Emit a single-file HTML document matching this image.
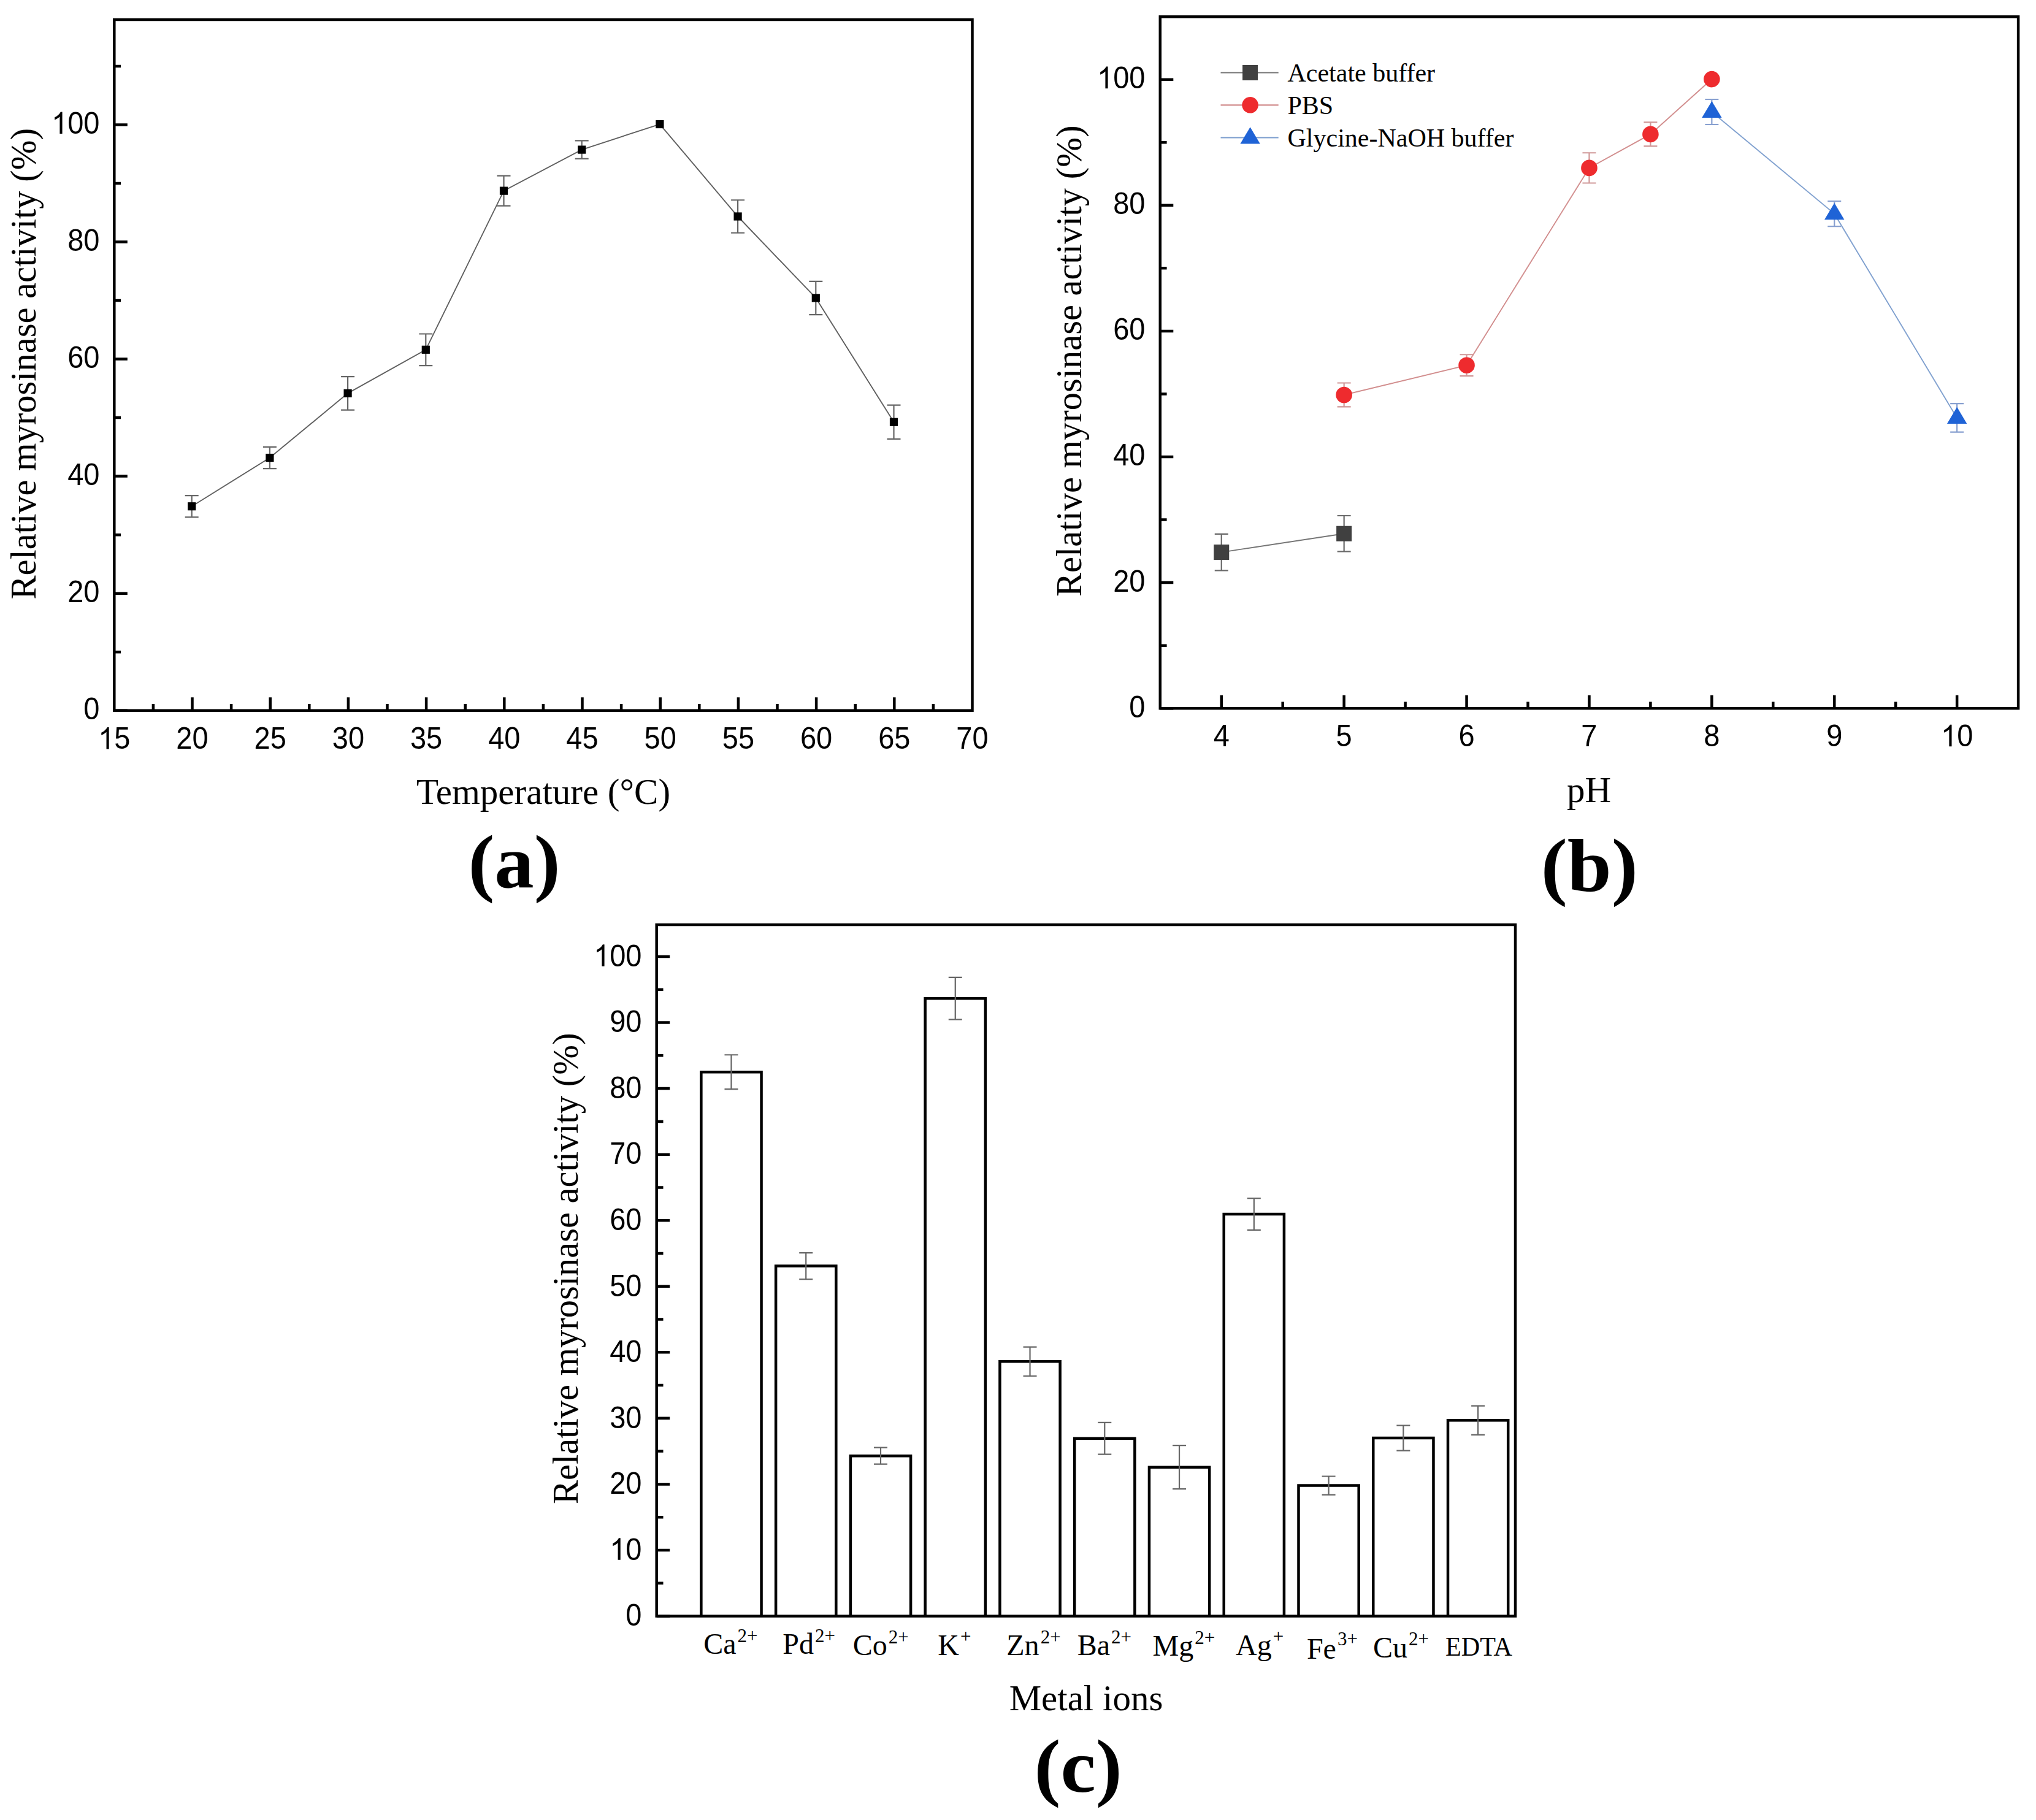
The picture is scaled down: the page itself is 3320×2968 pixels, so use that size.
<!DOCTYPE html>
<html><head><meta charset="utf-8"><title>Myrosinase activity</title>
<style>html,body{margin:0;padding:0;background:#fff}body{width:3320px;height:2968px;overflow:hidden}</style>
</head><body>
<svg width='3320' height='2968' viewBox='0 0 3320 2968' style='display:block'><rect width='3320' height='2968' fill='#fff'/><path d='M312.7 808.05V843.39M301.7 808.05H323.7M301.7 843.39H323.7' stroke='#666' stroke-width='2.2' fill='none'/><path d='M439.9 728.86V764.2M428.9 728.86H450.9M428.9 764.2H450.9' stroke='#666' stroke-width='2.2' fill='none'/><path d='M567.1 614.14V668.59M556.1 614.14H578.1M556.1 668.59H578.1' stroke='#666' stroke-width='2.2' fill='none'/><path d='M694.3 544.51V596.09M683.3 544.51H705.3M683.3 596.09H705.3' stroke='#666' stroke-width='2.2' fill='none'/><path d='M821.5 286.6V335.7M810.5 286.6H832.5M810.5 335.7H832.5' stroke='#666' stroke-width='2.2' fill='none'/><path d='M948.7 229.29V258.9M937.7 229.29H959.7M937.7 258.9H959.7' stroke='#666' stroke-width='2.2' fill='none'/><path d='M1203.1 326.24V379.73M1192.1 326.24H1214.1M1192.1 379.73H1214.1' stroke='#666' stroke-width='2.2' fill='none'/><path d='M1330.3 458.82V513.08M1319.3 458.82H1341.3M1319.3 513.08H1341.3' stroke='#666' stroke-width='2.2' fill='none'/><path d='M1457.5 660.56V715.96M1446.5 660.56H1468.5M1446.5 715.96H1468.5' stroke='#666' stroke-width='2.2' fill='none'/><polyline points='312.7,825.72 439.9,746.53 567.1,641.36 694.3,570.3 821.5,311.15 948.7,244.1 1075.9,202.54 1203.1,352.99 1330.3,485.95 1457.5,688.26' fill='none' stroke='#606060' stroke-width='1.9'/><rect x='306.1' y='819.12' width='13.2' height='13.2' fill='#000'/><rect x='433.3' y='739.93' width='13.2' height='13.2' fill='#000'/><rect x='560.5' y='634.76' width='13.2' height='13.2' fill='#000'/><rect x='687.7' y='563.7' width='13.2' height='13.2' fill='#000'/><rect x='814.9' y='304.55' width='13.2' height='13.2' fill='#000'/><rect x='942.1' y='237.5' width='13.2' height='13.2' fill='#000'/><rect x='1069.3' y='195.94' width='13.2' height='13.2' fill='#000'/><rect x='1196.5' y='346.39' width='13.2' height='13.2' fill='#000'/><rect x='1323.7' y='479.35' width='13.2' height='13.2' fill='#000'/><rect x='1450.9' y='681.66' width='13.2' height='13.2' fill='#000'/><rect x='186.3' y='32' width='1399.2' height='1126.7' fill='none' stroke='#000' stroke-width='4.5'/><path d='M186.3 1158.7H207.8M186.3 967.66H207.8M186.3 776.62H207.8M186.3 585.58H207.8M186.3 394.54H207.8M186.3 203.5H207.8M186.3 1063.18H197.1M186.3 872.14H197.1M186.3 681.1H197.1M186.3 490.06H197.1M186.3 299.02H197.1M186.3 107.98H197.1' stroke='#000' stroke-width='4.5' fill='none'/><path d='M313.5 1158.7V1137.2M440.7 1158.7V1137.2M567.9 1158.7V1137.2M695.1 1158.7V1137.2M822.3 1158.7V1137.2M949.5 1158.7V1137.2M1076.7 1158.7V1137.2M1203.9 1158.7V1137.2M1331.1 1158.7V1137.2M1458.3 1158.7V1137.2M249.9 1158.7V1147.9M377.1 1158.7V1147.9M504.3 1158.7V1147.9M631.5 1158.7V1147.9M758.7 1158.7V1147.9M885.9 1158.7V1147.9M1013.1 1158.7V1147.9M1140.3 1158.7V1147.9M1267.5 1158.7V1147.9M1394.7 1158.7V1147.9M1521.9 1158.7V1147.9' stroke='#000' stroke-width='4.5' fill='none'/><g transform='translate(162.5,0) scale(0.95,1) translate(-162.5,0)'><text x='134.97' y='1173.2' font-family="'Liberation Sans', sans-serif" font-size='49.5'>0</text></g><g transform='translate(162.5,0) scale(0.95,1) translate(-162.5,0)'><text x='107.44' y='982.16' font-family="'Liberation Sans', sans-serif" font-size='49.5'>20</text></g><g transform='translate(162.5,0) scale(0.95,1) translate(-162.5,0)'><text x='107.44' y='791.12' font-family="'Liberation Sans', sans-serif" font-size='49.5'>40</text></g><g transform='translate(162.5,0) scale(0.95,1) translate(-162.5,0)'><text x='107.44' y='600.08' font-family="'Liberation Sans', sans-serif" font-size='49.5'>60</text></g><g transform='translate(162.5,0) scale(0.95,1) translate(-162.5,0)'><text x='107.44' y='409.04' font-family="'Liberation Sans', sans-serif" font-size='49.5'>80</text></g><g transform='translate(162.5,0) scale(0.95,1) translate(-162.5,0)'><text x='79.91' y='218' font-family="'Liberation Sans', sans-serif" font-size='49.5'><tspan fill-opacity='0'>1</tspan>00</text><path d='M763 0H583V1147Q518 1085 412.5 1023Q307 961 223 930V1104Q374 1175 487 1276Q600 1377 647 1472H763Z' transform='translate(79.91,218) scale(0.02417,-0.02417)'/></g><g transform='translate(186.3,0) scale(0.95,1) translate(-186.3,0)'><text x='158.77' y='1221.5' font-family="'Liberation Sans', sans-serif" font-size='49.5'><tspan fill-opacity='0'>1</tspan>5</text><path d='M763 0H583V1147Q518 1085 412.5 1023Q307 961 223 930V1104Q374 1175 487 1276Q600 1377 647 1472H763Z' transform='translate(158.77,1221.5) scale(0.02417,-0.02417)'/></g><g transform='translate(313.5,0) scale(0.95,1) translate(-313.5,0)'><text x='285.97' y='1221.5' font-family="'Liberation Sans', sans-serif" font-size='49.5'>20</text></g><g transform='translate(440.7,0) scale(0.95,1) translate(-440.7,0)'><text x='413.17' y='1221.5' font-family="'Liberation Sans', sans-serif" font-size='49.5'>25</text></g><g transform='translate(567.9,0) scale(0.95,1) translate(-567.9,0)'><text x='540.37' y='1221.5' font-family="'Liberation Sans', sans-serif" font-size='49.5'>30</text></g><g transform='translate(695.1,0) scale(0.95,1) translate(-695.1,0)'><text x='667.57' y='1221.5' font-family="'Liberation Sans', sans-serif" font-size='49.5'>35</text></g><g transform='translate(822.3,0) scale(0.95,1) translate(-822.3,0)'><text x='794.77' y='1221.5' font-family="'Liberation Sans', sans-serif" font-size='49.5'>40</text></g><g transform='translate(949.5,0) scale(0.95,1) translate(-949.5,0)'><text x='921.97' y='1221.5' font-family="'Liberation Sans', sans-serif" font-size='49.5'>45</text></g><g transform='translate(1076.7,0) scale(0.95,1) translate(-1076.7,0)'><text x='1049.17' y='1221.5' font-family="'Liberation Sans', sans-serif" font-size='49.5'>50</text></g><g transform='translate(1203.9,0) scale(0.95,1) translate(-1203.9,0)'><text x='1176.37' y='1221.5' font-family="'Liberation Sans', sans-serif" font-size='49.5'>55</text></g><g transform='translate(1331.1,0) scale(0.95,1) translate(-1331.1,0)'><text x='1303.57' y='1221.5' font-family="'Liberation Sans', sans-serif" font-size='49.5'>60</text></g><g transform='translate(1458.3,0) scale(0.95,1) translate(-1458.3,0)'><text x='1430.77' y='1221.5' font-family="'Liberation Sans', sans-serif" font-size='49.5'>65</text></g><g transform='translate(1585.5,0) scale(0.95,1) translate(-1585.5,0)'><text x='1557.97' y='1221.5' font-family="'Liberation Sans', sans-serif" font-size='49.5'>70</text></g><text transform='translate(57.5,977.5) rotate(-90)' font-family="'Liberation Serif', serif" font-size='58.5'>Relative myrosinase activity (%)</text><text x='886' y='1311.2' text-anchor='middle' font-family="'Liberation Serif', serif" font-size='59'>Temperature (°C)</text><text transform='translate(838.5,1447) scale(1.03,0.985)' text-anchor='middle' font-family="'Liberation Serif', serif" font-size='125' font-weight='bold'>(a)</text><path d='M1991.75 870.83V930.31M1980.75 870.83H2002.75M1980.75 930.31H2002.75' stroke='#6a6a6a' stroke-width='2.2' fill='none'/><path d='M2191.65 840.99V899.44M2180.65 840.99H2202.65M2180.65 899.44H2202.65' stroke='#6a6a6a' stroke-width='2.2' fill='none'/><path d='M2191.65 624.5V663.47M2180.65 624.5H2202.65M2180.65 663.47H2202.65' stroke='#d09898' stroke-width='2.2' fill='none'/><path d='M2391.55 578.25V613.12M2380.55 578.25H2402.55M2380.55 613.12H2402.55' stroke='#d09898' stroke-width='2.2' fill='none'/><path d='M2591.45 249.27V298.5M2580.45 249.27H2602.45M2580.45 298.5H2602.45' stroke='#d09898' stroke-width='2.2' fill='none'/><path d='M2691.4 199.43V238.4M2680.4 199.43H2702.4M2680.4 238.4H2702.4' stroke='#d09898' stroke-width='2.2' fill='none'/><path d='M2791.35 162V203.02M2780.35 162H2802.35M2780.35 203.02H2802.35' stroke='#88a0d0' stroke-width='2.2' fill='none'/><path d='M2991.25 328.13V369.15M2980.25 328.13H3002.25M2980.25 369.15H3002.25' stroke='#88a0d0' stroke-width='2.2' fill='none'/><path d='M3191.15 658.14V704.7M3180.15 658.14H3202.15M3180.15 704.7H3202.15' stroke='#88a0d0' stroke-width='2.2' fill='none'/><polyline points='1991.75,900.57 2191.65,870.21' fill='none' stroke='#767676' stroke-width='1.9'/><polyline points='2191.65,643.99 2391.55,595.69 2591.45,273.89 2691.4,218.92 2791.35,129.08' fill='none' stroke='#d28e8e' stroke-width='1.9'/><polyline points='2791.35,182.51 2991.25,348.64 3191.15,681.42' fill='none' stroke='#82a2d0' stroke-width='1.9'/><rect x='1979.25' y='888.07' width='25' height='25' fill='#404040'/><rect x='2179.15' y='857.71' width='25' height='25' fill='#404040'/><circle cx='2191.65' cy='643.99' r='13.3' fill='#EE2B2E'/><circle cx='2391.55' cy='595.69' r='13.3' fill='#EE2B2E'/><circle cx='2591.45' cy='273.89' r='13.3' fill='#EE2B2E'/><circle cx='2691.4' cy='218.92' r='13.3' fill='#EE2B2E'/><circle cx='2791.35' cy='129.08' r='13.3' fill='#EE2B2E'/><path d='M2791.35 164.91L2807.55 192.11L2775.15 192.11Z' fill='#1F63D6'/><path d='M2991.25 331.04L3007.45 358.24L2975.05 358.24Z' fill='#1F63D6'/><path d='M3191.15 663.82L3207.35 691.02L3174.95 691.02Z' fill='#1F63D6'/><rect x='1891.8' y='27.3' width='1399.3' height='1127.9' fill='none' stroke='#000' stroke-width='4.5'/><path d='M1891.8 1155.2H1913.3M1891.8 950.1H1913.3M1891.8 745H1913.3M1891.8 539.9H1913.3M1891.8 334.8H1913.3M1891.8 129.7H1913.3M1891.8 1052.65H1902.6M1891.8 847.55H1902.6M1891.8 642.45H1902.6M1891.8 437.35H1902.6M1891.8 232.25H1902.6' stroke='#000' stroke-width='4.5' fill='none'/><path d='M1991.75 1155.2V1133.7M2191.65 1155.2V1133.7M2391.55 1155.2V1133.7M2591.45 1155.2V1133.7M2791.35 1155.2V1133.7M2991.25 1155.2V1133.7M3191.15 1155.2V1133.7M2091.7 1155.2V1144.4M2291.6 1155.2V1144.4M2491.5 1155.2V1144.4M2691.4 1155.2V1144.4M2891.3 1155.2V1144.4M3091.2 1155.2V1144.4' stroke='#000' stroke-width='4.5' fill='none'/><g transform='translate(1867.5,0) scale(0.95,1) translate(-1867.5,0)'><text x='1839.97' y='1169.7' font-family="'Liberation Sans', sans-serif" font-size='49.5'>0</text></g><g transform='translate(1867.5,0) scale(0.95,1) translate(-1867.5,0)'><text x='1812.44' y='964.6' font-family="'Liberation Sans', sans-serif" font-size='49.5'>20</text></g><g transform='translate(1867.5,0) scale(0.95,1) translate(-1867.5,0)'><text x='1812.44' y='759.5' font-family="'Liberation Sans', sans-serif" font-size='49.5'>40</text></g><g transform='translate(1867.5,0) scale(0.95,1) translate(-1867.5,0)'><text x='1812.44' y='554.4' font-family="'Liberation Sans', sans-serif" font-size='49.5'>60</text></g><g transform='translate(1867.5,0) scale(0.95,1) translate(-1867.5,0)'><text x='1812.44' y='349.3' font-family="'Liberation Sans', sans-serif" font-size='49.5'>80</text></g><g transform='translate(1867.5,0) scale(0.95,1) translate(-1867.5,0)'><text x='1784.91' y='144.2' font-family="'Liberation Sans', sans-serif" font-size='49.5'><tspan fill-opacity='0'>1</tspan>00</text><path d='M763 0H583V1147Q518 1085 412.5 1023Q307 961 223 930V1104Q374 1175 487 1276Q600 1377 647 1472H763Z' transform='translate(1784.91,144.2) scale(0.02417,-0.02417)'/></g><g transform='translate(1991.75,0) scale(0.95,1) translate(-1991.75,0)'><text x='1977.99' y='1217.3' font-family="'Liberation Sans', sans-serif" font-size='49.5'>4</text></g><g transform='translate(2191.65,0) scale(0.95,1) translate(-2191.65,0)'><text x='2177.89' y='1217.3' font-family="'Liberation Sans', sans-serif" font-size='49.5'>5</text></g><g transform='translate(2391.55,0) scale(0.95,1) translate(-2391.55,0)'><text x='2377.79' y='1217.3' font-family="'Liberation Sans', sans-serif" font-size='49.5'>6</text></g><g transform='translate(2591.45,0) scale(0.95,1) translate(-2591.45,0)'><text x='2577.69' y='1217.3' font-family="'Liberation Sans', sans-serif" font-size='49.5'>7</text></g><g transform='translate(2791.35,0) scale(0.95,1) translate(-2791.35,0)'><text x='2777.59' y='1217.3' font-family="'Liberation Sans', sans-serif" font-size='49.5'>8</text></g><g transform='translate(2991.25,0) scale(0.95,1) translate(-2991.25,0)'><text x='2977.49' y='1217.3' font-family="'Liberation Sans', sans-serif" font-size='49.5'>9</text></g><g transform='translate(3191.15,0) scale(0.95,1) translate(-3191.15,0)'><text x='3163.62' y='1217.3' font-family="'Liberation Sans', sans-serif" font-size='49.5'><tspan fill-opacity='0'>1</tspan>0</text><path d='M763 0H583V1147Q518 1085 412.5 1023Q307 961 223 930V1104Q374 1175 487 1276Q600 1377 647 1472H763Z' transform='translate(3163.62,1217.3) scale(0.02417,-0.02417)'/></g><text transform='translate(1762.6,973) rotate(-90)' font-family="'Liberation Serif', serif" font-size='58.5'>Relative myrosinase activity (%)</text><text x='2591' y='1307.8' text-anchor='middle' font-family="'Liberation Serif', serif" font-size='59'>pH</text><text transform='translate(2591.8,1452.5) scale(1.035,0.98)' text-anchor='middle' font-family="'Liberation Serif', serif" font-size='125' font-weight='bold'>(b)</text><path d='M1990.5 118.5H2084.7' stroke='#767676' stroke-width='2.2'/><rect x='2026.1' y='106' width='25' height='25' fill='#404040'/><text x='2099.5' y='133' font-family="'Liberation Serif', serif" font-size='42'>Acetate buffer</text><path d='M1990.5 171.3H2084.7' stroke='#d28e8e' stroke-width='2.2'/><circle cx='2038.6' cy='171.3' r='13.3' fill='#EE2B2E'/><text x='2099.5' y='186' font-family="'Liberation Serif', serif" font-size='42'>PBS</text><path d='M1990.5 224.4H2084.7' stroke='#82a2d0' stroke-width='2.2'/><path d='M2038.6 207.3L2054.8 234.5L2022.4 234.5Z' fill='#1F63D6'/><text x='2099.5' y='239' font-family="'Liberation Serif', serif" font-size='42'>Glycine-NaOH buffer</text><path d='M1143.37 2635.5V1748.21H1241.57V2635.5' fill='#fff' stroke='#000' stroke-width='4.5'/><path d='M1192.47 1720.25V1776.18M1181.47 1720.25H1203.47M1181.47 1776.18H1203.47' stroke='#666' stroke-width='2.2' fill='none'/><path d='M1265.13 2635.5V2064.62H1363.33V2635.5' fill='#fff' stroke='#000' stroke-width='4.5'/><path d='M1314.23 2043.11V2086.13M1303.23 2043.11H1325.23M1303.23 2086.13H1325.23' stroke='#666' stroke-width='2.2' fill='none'/><path d='M1386.9 2635.5V2374.15H1485.1V2635.5' fill='#fff' stroke='#000' stroke-width='4.5'/><path d='M1436 2360.71V2387.6M1425 2360.71H1447M1425 2387.6H1447' stroke='#666' stroke-width='2.2' fill='none'/><path d='M1508.66 2635.5V1628.29H1606.86V2635.5' fill='#fff' stroke='#000' stroke-width='4.5'/><path d='M1557.76 1593.88V1662.71M1546.76 1593.88H1568.76M1546.76 1662.71H1568.76' stroke='#666' stroke-width='2.2' fill='none'/><path d='M1630.43 2635.5V2220.36H1728.63V2635.5' fill='#fff' stroke='#000' stroke-width='4.5'/><path d='M1679.53 2196.7V2244.02M1668.53 2196.7H1690.53M1668.53 2244.02H1690.53' stroke='#666' stroke-width='2.2' fill='none'/><path d='M1752.19 2635.5V2345.76H1850.39V2635.5' fill='#fff' stroke='#000' stroke-width='4.5'/><path d='M1801.29 2319.95V2371.57M1790.29 2319.95H1812.29M1790.29 2371.57H1812.29' stroke='#666' stroke-width='2.2' fill='none'/><path d='M1873.96 2635.5V2392.65H1972.16V2635.5' fill='#fff' stroke='#000' stroke-width='4.5'/><path d='M1923.06 2357.16V2428.14M1912.06 2357.16H1934.06M1912.06 2428.14H1934.06' stroke='#666' stroke-width='2.2' fill='none'/><path d='M1995.72 2635.5V1979.98H2093.92V2635.5' fill='#fff' stroke='#000' stroke-width='4.5'/><path d='M2044.82 1954.17V2005.79M2033.82 1954.17H2055.82M2033.82 2005.79H2055.82' stroke='#666' stroke-width='2.2' fill='none'/><path d='M2117.49 2635.5V2422.55H2215.69V2635.5' fill='#fff' stroke='#000' stroke-width='4.5'/><path d='M2166.59 2407.49V2437.61M2155.59 2407.49H2177.59M2155.59 2437.61H2177.59' stroke='#666' stroke-width='2.2' fill='none'/><path d='M2239.25 2635.5V2345.11H2337.45V2635.5' fill='#fff' stroke='#000' stroke-width='4.5'/><path d='M2288.35 2324.68V2365.55M2277.35 2324.68H2299.35M2277.35 2365.55H2299.35' stroke='#666' stroke-width='2.2' fill='none'/><path d='M2361.02 2635.5V2316.29H2459.22V2635.5' fill='#fff' stroke='#000' stroke-width='4.5'/><path d='M2410.12 2292.63V2339.95M2399.12 2292.63H2421.12M2399.12 2339.95H2421.12' stroke='#666' stroke-width='2.2' fill='none'/><rect x='1070.7' y='1508' width='1400.3' height='1127.5' fill='none' stroke='#000' stroke-width='4.5'/><path d='M1070.7 2635.5H1092.2M1070.7 2527.95H1092.2M1070.7 2420.4H1092.2M1070.7 2312.85H1092.2M1070.7 2205.3H1092.2M1070.7 2097.75H1092.2M1070.7 1990.2H1092.2M1070.7 1882.65H1092.2M1070.7 1775.1H1092.2M1070.7 1667.55H1092.2M1070.7 1560H1092.2M1070.7 2581.72H1081.5M1070.7 2474.18H1081.5M1070.7 2366.62H1081.5M1070.7 2259.07H1081.5M1070.7 2151.53H1081.5M1070.7 2043.97H1081.5M1070.7 1936.42H1081.5M1070.7 1828.88H1081.5M1070.7 1721.32H1081.5M1070.7 1613.78H1081.5' stroke='#000' stroke-width='4.5' fill='none'/><g transform='translate(1046.5,0) scale(0.95,1) translate(-1046.5,0)'><text x='1018.97' y='2651.3' font-family="'Liberation Sans', sans-serif" font-size='49.5'>0</text></g><g transform='translate(1046.5,0) scale(0.95,1) translate(-1046.5,0)'><text x='991.44' y='2543.75' font-family="'Liberation Sans', sans-serif" font-size='49.5'><tspan fill-opacity='0'>1</tspan>0</text><path d='M763 0H583V1147Q518 1085 412.5 1023Q307 961 223 930V1104Q374 1175 487 1276Q600 1377 647 1472H763Z' transform='translate(991.44,2543.75) scale(0.02417,-0.02417)'/></g><g transform='translate(1046.5,0) scale(0.95,1) translate(-1046.5,0)'><text x='991.44' y='2436.2' font-family="'Liberation Sans', sans-serif" font-size='49.5'>20</text></g><g transform='translate(1046.5,0) scale(0.95,1) translate(-1046.5,0)'><text x='991.44' y='2328.65' font-family="'Liberation Sans', sans-serif" font-size='49.5'>30</text></g><g transform='translate(1046.5,0) scale(0.95,1) translate(-1046.5,0)'><text x='991.44' y='2221.1' font-family="'Liberation Sans', sans-serif" font-size='49.5'>40</text></g><g transform='translate(1046.5,0) scale(0.95,1) translate(-1046.5,0)'><text x='991.44' y='2113.55' font-family="'Liberation Sans', sans-serif" font-size='49.5'>50</text></g><g transform='translate(1046.5,0) scale(0.95,1) translate(-1046.5,0)'><text x='991.44' y='2006' font-family="'Liberation Sans', sans-serif" font-size='49.5'>60</text></g><g transform='translate(1046.5,0) scale(0.95,1) translate(-1046.5,0)'><text x='991.44' y='1898.45' font-family="'Liberation Sans', sans-serif" font-size='49.5'>70</text></g><g transform='translate(1046.5,0) scale(0.95,1) translate(-1046.5,0)'><text x='991.44' y='1790.9' font-family="'Liberation Sans', sans-serif" font-size='49.5'>80</text></g><g transform='translate(1046.5,0) scale(0.95,1) translate(-1046.5,0)'><text x='991.44' y='1683.35' font-family="'Liberation Sans', sans-serif" font-size='49.5'>90</text></g><g transform='translate(1046.5,0) scale(0.95,1) translate(-1046.5,0)'><text x='963.91' y='1575.8' font-family="'Liberation Sans', sans-serif" font-size='49.5'><tspan fill-opacity='0'>1</tspan>00</text><path d='M763 0H583V1147Q518 1085 412.5 1023Q307 961 223 930V1104Q374 1175 487 1276Q600 1377 647 1472H763Z' transform='translate(963.91,1575.8) scale(0.02417,-0.02417)'/></g><text x='1147.2' y='2697.3' font-family="'Liberation Serif', serif" font-size='48'>Ca<tspan font-size='31' dx='2' dy='-19.3'>2+</tspan></text><text x='1276.3' y='2697.3' font-family="'Liberation Serif', serif" font-size='48'>Pd<tspan font-size='31' dx='2' dy='-19.3'>2+</tspan></text><text x='1390.8' y='2699' font-family="'Liberation Serif', serif" font-size='48'>Co<tspan font-size='31' dx='2' dy='-19.5'>2+</tspan></text><text x='1529.3' y='2699' font-family="'Liberation Serif', serif" font-size='48'>K<tspan font-size='31' dx='2' dy='-20.5'>+</tspan></text><text x='1641.3' y='2699' font-family="'Liberation Serif', serif" font-size='48'>Zn<tspan font-size='31' dx='2' dy='-19.5'>2+</tspan></text><text x='1756.7' y='2699' font-family="'Liberation Serif', serif" font-size='48'>Ba<tspan font-size='31' dx='2' dy='-19.5'>2+</tspan></text><text x='1879.5' y='2700.4' font-family="'Liberation Serif', serif" font-size='48'>Mg<tspan font-size='31' dx='2' dy='-19.5'>2+</tspan></text><text x='2015' y='2699' font-family="'Liberation Serif', serif" font-size='48'>Ag<tspan font-size='31' dx='2' dy='-20.5'>+</tspan></text><text x='2130.9' y='2704.8' font-family="'Liberation Serif', serif" font-size='48'>Fe<tspan font-size='31' dx='2' dy='-21.5'>3+</tspan></text><text x='2239' y='2702.7' font-family="'Liberation Serif', serif" font-size='48'>Cu<tspan font-size='31' dx='2' dy='-19.5'>2+</tspan></text><text x='2357' y='2700' font-family="'Liberation Serif', serif" font-size='44.5' textLength='109' lengthAdjust='spacingAndGlyphs'>EDTA</text><text transform='translate(942,2453) rotate(-90)' font-family="'Liberation Serif', serif" font-size='58.5'>Relative myrosinase activity (%)</text><text x='1771' y='2789.4' text-anchor='middle' font-family="'Liberation Serif', serif" font-size='59'>Metal ions</text><text transform='translate(1758.2,2921.5) scale(1.045,1)' text-anchor='middle' font-family="'Liberation Serif', serif" font-size='123.5' font-weight='bold'>(c)</text></svg>
</body></html>
